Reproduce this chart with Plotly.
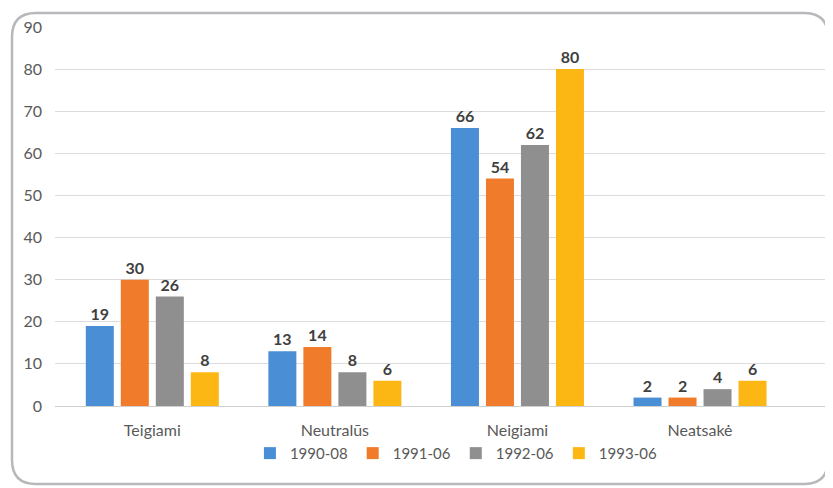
import plotly.graph_objects as go

# Duomenys
categories = ["Teigiami", "Neutralūs", "Neigiami", "Neatsakė"]
series_names = ["1990-08", "1991-06", "1992-06", "1993-06"]
v1990 = [19, 13, 66, 2]
v1991 = [30, 14, 54, 2]
v1992 = [26, 8, 62, 4]
v1993 = [8, 6, 80, 6]
colors = ["#4a8fd6", "#f07b2a", "#8f8f8f", "#fdb714"]

# page body has an 8px margin, so the figure is a bit smaller than the window
W, H = 825, 480
L, R, T, B = 47, 7, 19, 82  # plot area margins in px


def px_to_paper(px, py):
    x = (px - L) / (W - L - R)
    y = ((H - B) - py) / (H - T - B)
    return x, y


def rounded_box(x0, y0, x1, y1, r):
    def p(x, y):
        a, b = px_to_paper(x, y)
        return f"{a:.5f},{b:.5f}"
    return (f"M {p(x0 + r, y0)} L {p(x1 - r, y0)} Q {p(x1, y0)} {p(x1, y0 + r)} "
            f"L {p(x1, y1 - r)} Q {p(x1, y1)} {p(x1 - r, y1)} "
            f"L {p(x0 + r, y1)} Q {p(x0, y1)} {p(x0, y1 - r)} "
            f"L {p(x0, y0 + r)} Q {p(x0, y0)} {p(x0 + r, y0)} Z")


fig = go.Figure()
for name, vals, col in zip(series_names, [v1990, v1991, v1992, v1993], colors):
    fig.add_trace(go.Bar(
        x=categories, y=vals, name=name,
        marker=dict(color=col, line=dict(width=0)),
        text=[f"<b>{v}</b>" for v in vals],
        textposition="outside",
        textfont=dict(size=16, color="#404040"),
        cliponaxis=False,
    ))

fig.update_layout(
    width=W, height=H,
    margin=dict(l=L, r=R, t=T, b=B),
    paper_bgcolor="white", plot_bgcolor="white",
    font=dict(family="Lato, Noto Sans, sans-serif", size=16, color="#595959"),
    barmode="group", bargap=0.233, bargroupgap=0.2,
    showlegend=True,
    legend=dict(orientation="h", x=0.52, xanchor="center", y=-0.125, yanchor="middle",
                font=dict(size=15, color="#595959"), itemwidth=30,
                bgcolor="rgba(0,0,0,0)", traceorder="normal"),
    xaxis=dict(range=[-0.533, 3.69], showgrid=False, showline=False, ticks="",
               ticklabelstandoff=13, tickfont=dict(size=16, color="#595959")),
    yaxis=dict(range=[0, 90], dtick=10, showgrid=True, gridcolor="#dcdcdc", gridwidth=1,
               zeroline=True, zerolinecolor="#d0d0d0", zerolinewidth=1,
               showline=False, ticks="", ticklabelstandoff=12,
               tickfont=dict(size=16, color="#595959")),
    shapes=[dict(type="path", xref="paper", yref="paper",
                 path=rounded_box(4, 5, 820, 476, 24),
                 line=dict(color="#b8b8bc", width=2.5), layer="above")],
)

fig.write_html("out.html")
